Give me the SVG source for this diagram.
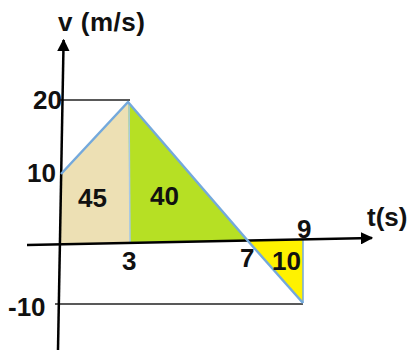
<svg xmlns="http://www.w3.org/2000/svg" width="409" height="350" viewBox="0 0 409 350">
<style>
.t{font-family:"Liberation Sans",Arial,sans-serif;font-weight:bold;font-size:26px;fill:#111}
.ax{stroke:#000;stroke-width:2.5;fill:none}
.thin{stroke:#222;stroke-width:1.5;fill:none}
.edge{stroke:#74a9dc;stroke-width:2.5;fill:none;stroke-linejoin:round}
</style>
<defs>
<marker id="ah" viewBox="0 0 10 10" refX="9" refY="5" markerWidth="5" markerHeight="5" orient="auto" markerUnits="strokeWidth">
<path d="M0,0 L10,5 L0,10 Z" fill="#000"/>
</marker>
</defs>
<rect width="409" height="350" fill="#fff"/>
<g id="areas">
<polygon points="61,174 128,102 130,242 61,244" fill="#ede0b4"/>
<polygon points="128,102 248,241 130,242" fill="#b6e024"/>
<polygon points="248,241 303,240 303,303" fill="#fff200"/>
</g>
<g id="guides">
<line class="thin" x1="59" y1="100" x2="130" y2="100"/>
<line class="thin" x1="55" y1="304" x2="303" y2="304"/>
<line x1="129" y1="103" x2="130" y2="242" stroke="#a8c8e8" stroke-width="1.5"/>
<line x1="303" y1="240" x2="303" y2="303" stroke="#74a9dc" stroke-width="1.5"/>
</g>
<g id="axes">
<line class="ax" x1="58" y1="350" x2="63.6" y2="40" marker-end="url(#ah)"/>
<line class="ax" x1="27" y1="245" x2="372" y2="238" marker-end="url(#ah)"/>
</g>
<g id="graph">
<polyline class="edge" points="61,174 128,102 248,241 303,303"/>
</g>
<g id="labels">
<text class="t" x="58" y="31" textLength="87">v (m/s)</text>
<text class="t" x="33" y="109">20</text>
<text class="t" x="27" y="182">10</text>
<text class="t" x="78" y="207">45</text>
<text class="t" x="150" y="205">40</text>
<text class="t" x="122" y="270">3</text>
<text class="t" x="8" y="316">-10</text>
<text class="t" x="240" y="267">7</text>
<text class="t" x="297" y="238">9</text>
<text class="t" x="272" y="270">10</text>
<text class="t" x="367" y="226">t(s)</text>
</g>
</svg>
